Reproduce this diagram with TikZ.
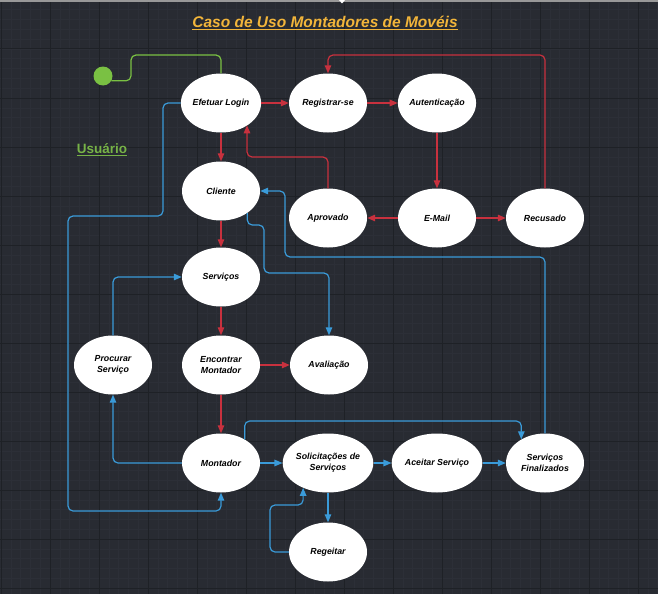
\documentclass[tikz,border=0pt]{standalone}
\usepackage{fontspec}
\setmainfont{Liberation Sans}
\usetikzlibrary{arrows.meta,shapes.geometric}
\definecolor{bg}{HTML}{282B32}
\definecolor{gridmaj}{HTML}{1E2126}
\definecolor{gridmin}{HTML}{2C2F37}
\definecolor{redc}{HTML}{C8313E}
\definecolor{bluec}{HTML}{3A9BD9}
\definecolor{greenc}{HTML}{7AC143}
\definecolor{greenu}{HTML}{77B347}
\definecolor{titlec}{HTML}{F2B53A}
\tikzset{
  st/.style={ellipse, fill=white, minimum width=78pt, minimum height=59pt, inner sep=0pt,
    font=\fontsize{8.8}{11}\selectfont\bfseries\itshape, align=center, text=black},
  conn/.style={line width=1.2pt, rounded corners=5pt, -{Triangle[length=8pt,width=6.5pt]}},
  rline/.style={conn, draw=redc},
  bline/.style={conn, draw=bluec},
}
\begin{document}
\begin{tikzpicture}[x=1pt,y=-1pt]
\fill[bg] (0,0) rectangle (658,594);
\useasboundingbox (0,0) rectangle (658,594);
\foreach \k in {0,...,67} {\draw[gridmin,line width=.6pt] ({1+9.8*\k},0) -- ++(0,594);}
\foreach \k in {0,...,61} {\draw[gridmin,line width=.6pt] (0,{9.8*\k}) -- ++(658,0);}
\foreach \k in {0,...,13} {\draw[gridmaj,line width=1pt] ({1+49*\k},0) -- ++(0,594);}
\foreach \k in {0,...,12} {\draw[gridmaj,line width=1pt] (0,{49*\k}) -- ++(658,0);}
\fill[gray!80] (0,0) rectangle (658,1.6);
\fill[white] (339,0) -- (345,0) -- (342,3.5) -- cycle;

\node[font=\fontsize{15.5}{18}\selectfont\bfseries\itshape, text=titlec] (title) at (325,23) {\underline{Caso de Uso Montadores de Movéis}};
\node[font=\fontsize{13.5}{16}\selectfont\bfseries, text=greenu] (usr) at (102,150) {\underline{Usuário}};

\node[circle, fill=greenc, minimum size=19pt, inner sep=0pt] (start) at (103,76) {};

\node[st] (login) at (221,103) {Efetuar Login};
\node[st] (reg) at (328,103) {Registrar-se};
\node[st] (aut) at (437,103) {Autenticação};
\node[st] (cli) at (221,191) {Cliente};
\node[st] (apr) at (328,218) {Aprovado};
\node[st] (mail) at (437,218) {E-Mail};
\node[st] (rec) at (545,218) {Recusado};
\node[st] (serv) at (221,277) {Serviços};
\node[st] (proc) at (113,365) {Procurar\\Serviço};
\node[st] (enc) at (221,365) {Encontrar\\Montador};
\node[st] (aval) at (329,365) {Avaliação};
\node[st] (mont) at (221,463) {Montador};
\node[st] (sol) at (328,463) {Solicitações de\\Serviços};
\node[st] (ace) at (437,463) {Aceitar Serviço};
\node[st] (fin) at (545,463) {Serviços\\Finalizados};
\node[st] (rej) at (328,552) {Regeitar};

\draw[greenc, line width=1.2pt, rounded corners=5pt] (start.-30) -| (131,55) -| (login.north);

% red
\draw[rline] (login) -- (reg);
\draw[rline] (reg) -- (aut);
\draw[rline] (aut) -- (mail);
\draw[rline] (mail) -- (apr);
\draw[rline] (mail) -- (rec);
\coordinate (c1) at (328,55);
\draw[rline] (rec.north) |- (c1) -- (reg.north);
\coordinate (c2) at (247,157);
\draw[rline] (apr.north) |- (c2) -- (c2 |- login.-40);
\draw[rline] (login) -- (cli);
\draw[rline] (cli) -- (serv);
\draw[rline] (serv) -- (enc);
\draw[rline] (enc) -- (aval);
\draw[rline] (enc) -- (mont);

% blue
\draw[bline] (login.west) -| (163,216) -| (68,511) -| (mont.south);
\draw[bline] (fin.north) |- (285,257) |- (cli.east);
\draw[bline] (cli.-40) |- (264,225) |- (329,273) -- (aval.north);
\draw[bline] (proc.north) |- (serv.west);
\draw[bline] (mont.west) -| (proc.south);
\draw[bline] (mont) -- (sol);
\draw[bline] (mont.45) |- (400,421) -| (fin.135);
\draw[bline] (sol) -- (ace);
\draw[bline] (ace) -- (fin);
\draw[bline] (sol) -- (rej);
\draw[bline] (rej.west) -| (270,505) -| (sol.-135);
\end{tikzpicture}
\end{document}
